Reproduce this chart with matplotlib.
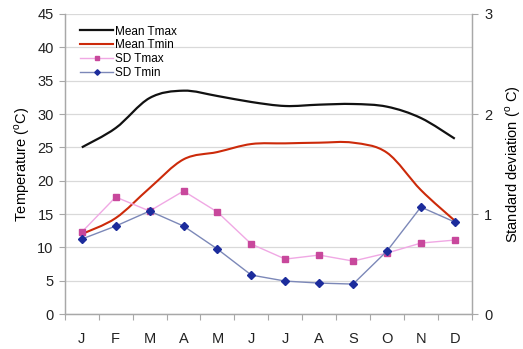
import matplotlib.pyplot as plt
from matplotlib.path import Path
from matplotlib.patches import PathPatch
from matplotlib.lines import Line2D
import numpy as np

plt.rcParams['font.family'] = ['Liberation Sans', 'DejaVu Sans']
plt.rcParams['mathtext.fontset'] = 'custom'
plt.rcParams['mathtext.rm'] = 'Liberation Sans'

months = ['J', 'F', 'M', 'A', 'M', 'J', 'J', 'A', 'S', 'O', 'N', 'D']
mean_tmax = [25.0, 27.9, 32.4, 33.5, 32.7, 31.8, 31.2, 31.4, 31.5, 31.1, 29.4, 26.3]
mean_tmin = [12.0, 14.4, 18.9, 23.2, 24.3, 25.5, 25.6, 25.7, 25.7, 24.2, 18.6, 14.0]
sd_tmax = [0.82, 1.17, 1.03, 1.23, 1.02, 0.70, 0.55, 0.59, 0.53, 0.61, 0.71, 0.74]
sd_tmin = [0.75, 0.88, 1.03, 0.88, 0.65, 0.39, 0.33, 0.31, 0.30, 0.63, 1.07, 0.92]

x = np.arange(len(months))
grey = '#a8a8a8'


def smooth_path(xs, ys, k=1/6):
    # cubic bezier through the points (catmull-rom style tangents)
    pts = np.column_stack([xs, ys]).astype(float)
    verts = [pts[0]]
    codes = [Path.MOVETO]
    n = len(pts)
    for i in range(n - 1):
        p0 = pts[max(i - 1, 0)]
        p1 = pts[i]
        p2 = pts[i + 1]
        p3 = pts[min(i + 2, n - 1)]
        c1 = p1 + (p2 - p0) * k
        c2 = p2 - (p3 - p1) * k
        verts += [c1, c2, p2]
        codes += [Path.CURVE4] * 3
    return Path(verts, codes)


fig = plt.figure(figsize=(5.23, 3.49), dpi=100)
ax = fig.add_axes([0.124, 0.100, 0.778, 0.860])
ax2 = ax.twinx()

ax.set_xlim(-0.5, 11.5)
ax.set_ylim(0, 45)
ax2.set_ylim(0, 3)

ax.set_yticks(np.arange(0, 46, 5))
ax2.set_yticks([0, 1, 2, 3])
ax.grid(axis='y', color='#d9d9d9', linewidth=0.9)
ax.set_axisbelow(True)

# month labels centred, tick marks on category boundaries
ax.set_xticks(np.arange(-0.5, 12, 1))
ax.set_xticklabels([])
ax.set_xticks(x, minor=True)
ax.set_xticklabels(months, minor=True)
ax.tick_params(axis='x', which='major', length=4, color=grey, direction='out')
ax.tick_params(axis='x', which='minor', length=0, pad=13, labelsize=10.5, labelcolor='#222222')
ax.tick_params(axis='y', length=4, color=grey, labelsize=10.5, labelcolor='#222222', pad=4)
ax2.tick_params(axis='y', length=4, color=grey, labelsize=10.5, labelcolor='#222222', pad=5)

for a in (ax, ax2):
    a.spines['top'].set_visible(False)
    for s in ('left', 'right', 'bottom'):
        a.spines[s].set_color(grey)
        a.spines[s].set_linewidth(0.9)

ax.add_patch(PathPatch(smooth_path(x, mean_tmax), fill=False, edgecolor='#111111', linewidth=1.6))
ax.add_patch(PathPatch(smooth_path(x, mean_tmin), fill=False, edgecolor='#cc2a0a', linewidth=1.5))

ax2.plot(x, sd_tmax, color='#f0a8e4', linewidth=1.0, marker='s', markersize=4,
         markerfacecolor='#c8489c', markeredgecolor='#c8489c')
ax2.plot(x, sd_tmin, color='#7c88b8', linewidth=1.0, marker='D', markersize=3.6,
         markerfacecolor='#1c2c9c', markeredgecolor='#1c2c9c')

ax.set_ylabel('Temperature ($^{\\rm o}$C)', fontsize=10.5, labelpad=4)
ax2.set_ylabel('Standard deviation ($^{\\rm o}$ C)', fontsize=10.5, labelpad=8)

handles = [
    Line2D([], [], color='#111111', linewidth=1.6),
    Line2D([], [], color='#cc2a0a', linewidth=1.5),
    Line2D([], [], color='#f0a8e4', linewidth=1.0, marker='s', markersize=3.2,
           markerfacecolor='#c8489c', markeredgecolor='#c8489c'),
    Line2D([], [], color='#7c88b8', linewidth=1.0, marker='D', markersize=2.8,
           markerfacecolor='#1c2c9c', markeredgecolor='#1c2c9c'),
]
ax.legend(handles, ['Mean Tmax', 'Mean Tmin', 'SD Tmax', 'SD Tmin'],
          loc='upper left', bbox_to_anchor=(0.02, 0.985), frameon=False,
          fontsize=8.5, handlelength=2.8, handletextpad=0.15, labelspacing=0.15,
          borderaxespad=0.2)

fig.savefig('out.png', dpi=100)
